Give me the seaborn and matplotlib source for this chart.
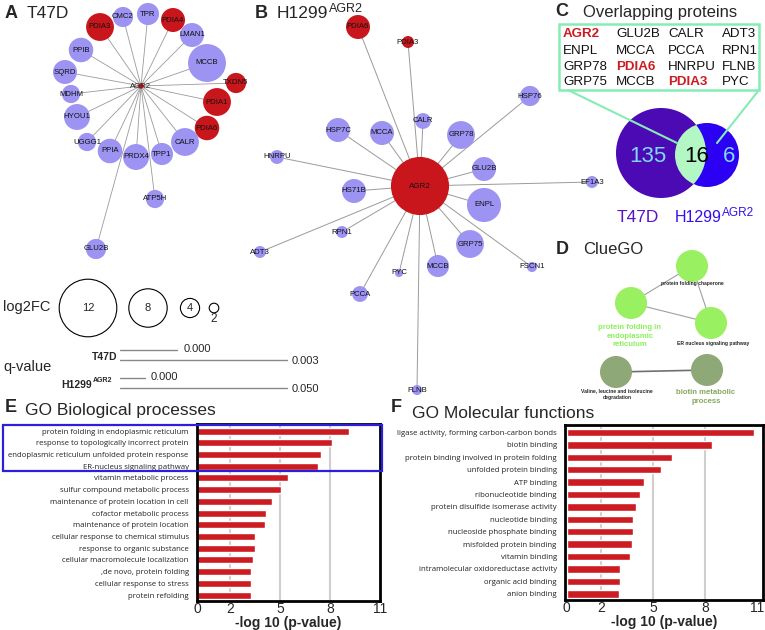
import numpy as np
import pandas as pd
import matplotlib
matplotlib.use('Agg')
import matplotlib.pyplot as plt
from matplotlib.patches import Circle, Rectangle
import seaborn as sns

# ------------------------------------------------------------------ data
# Panel A: T47D AGR2 interactors (node size ~ log2FC)
a_nodes = ['CMC2', 'TPR', 'PDIA4', 'PDIA3', 'LMAN1', 'PPIB', 'MCCB', 'SQRD', 'TXDN5', 'MDHM',
           'PDIA1', 'HYOU1', 'PDIA6', 'UGGG1', 'CALR', 'PPIA', 'PRDX4', 'TPP1', 'ATP5H', 'GLU2B']
a_log2fc = [4.2, 4.6, 5.0, 5.8, 5.0, 5.1, 7.9, 5.0, 4.2, 3.8,
            5.8, 5.4, 5.1, 3.8, 5.8, 5.1, 5.4, 4.6, 3.8, 4.2]
a_pdi = ['PDIA4', 'PDIA3', 'TXDN5', 'PDIA1', 'PDIA6']
# layout (network drawing positions, px)
a_hub = (141, 86)
a_x = [123, 148, 173, 100, 192, 81, 207, 65, 236, 71, 217, 77, 207, 87, 185, 110, 136, 162, 155, 96]
a_y = [17, 14, 20, 27, 35, 50, 63, 72, 83, 94, 102, 117, 128, 142, 142, 151, 157, 154, 199, 249]

# Panel B: H1299-AGR2 interactors
b_nodes = ['PDIA6', 'PDIA3', 'HSP76', 'CALR', 'MCCA', 'HSP7C', 'GRP78', 'HNRPU', 'GLU2B', 'HS71B',
           'EF1A3', 'ENPL', 'RPN1', 'ADT3', 'GRP75', 'PYC', 'MCCB', 'FSCN1', 'PCCA', 'FLNB']
b_log2fc = [5.0, 2.5, 4.2, 3.3, 5.0, 5.0, 5.8, 2.9, 5.0, 5.0,
            2.5, 7.1, 2.5, 2.5, 5.8, 1.7, 4.6, 2.1, 3.3, 2.1]
b_hub_log2fc = 12.1
b_red = ['PDIA6', 'PDIA3']
b_hub = (420, 186)
b_x = [358, 408, 530, 423, 382, 338, 461, 277, 484, 354, 592, 484, 342, 260, 470, 399, 438, 532, 360, 417]
b_y = [27, 42, 96, 121, 133, 130, 135, 157, 169, 191, 182, 205, 232, 252, 244, 273, 266, 267, 294, 390]

legend_sizes = [12, 8, 4, 2]

# Panel C
overlap_proteins = ['AGR2', 'GLU2B', 'CALR', 'ADT3',
                    'ENPL', 'MCCA', 'PCCA', 'RPN1',
                    'GRP78', 'PDIA6', 'HNRPU', 'FLNB',
                    'GRP75', 'MCCB', 'PDIA3', 'PYC']
overlap_highlight = ['AGR2', 'PDIA6', 'PDIA3']
venn_counts = [135, 16, 6]

# Panel E
bp_terms = ['protein folding in endoplasmic reticulum', 'response to topologically incorrect protein',
            'endoplasmic reticulum unfolded protein response', 'ER-nucleus signaling pathway',
            'vitamin metabolic process', 'sulfur compound metabolic process',
            'maintenance of protein location in cell', 'cofactor metabolic process',
            'maintenance of protein location', 'cellular response to chemical stimulus',
            'response to organic substance', 'cellular macromolecule localization',
            ',de novo, protein folding', 'cellular response to stress', 'protein refolding']
bp_values = [9.14, 8.10, 7.44, 7.30, 5.44, 5.04, 4.52, 4.14, 4.06, 3.48, 3.46, 3.36, 3.24, 3.24, 3.22]

# Panel F
mf_terms = ['ligase activity, forming carbon-carbon bonds', 'biotin binding',
            'protein binding involved in protein folding', 'unfolded protein binding',
            'ATP binding', 'ribonucleotide binding', 'protein disulfide isomerase activity',
            'nucleotide binding', 'nucleoside phosphate binding', 'misfolded protein binding',
            'vitamin binding', 'intramolecular oxidoreductase activity', 'organic acid binding',
            'anion binding']
mf_values = [10.79, 8.40, 6.09, 5.45, 4.47, 4.22, 3.97, 3.83, 3.83, 3.76, 3.66, 3.08, 3.05, 2.99]
x_ticks = [0, 2, 5, 8, 11]

# ------------------------------------------------------------------ style
sns.set_theme(style='white')
plt.rcParams['font.family'] = ['Liberation Sans', 'DejaVu Sans']

BLUE_NODE = '#9d93f2'
RED_NODE = '#c8161c'
BAR_RED = '#cc1c22'
EDGE = '#9a9a9a'
LABEL_FONT = 'Open Sans'

fig = plt.figure(figsize=(7.65, 6.3), dpi=100)
ax0 = fig.add_axes([0, 0, 1, 1])
ax0.set_xlim(0, 765)
ax0.set_ylim(630, 0)
ax0.axis('off')
ax0.set_zorder(5)
ax0.patch.set_visible(False)
renderer = fig.canvas.get_renderer()

R = 2.4  # px per log2FC unit


def node(ax, x, y, v, color, label, fs=5.6, zorder=3):
    ax.add_patch(Circle((x, y), R * v, facecolor=color, edgecolor='none', zorder=zorder))
    ax.text(x, y, label, ha='center', va='center', fontsize=fs, color='#111111', zorder=zorder + 1)


def with_sup(x, y, base, sup, fs, sfs, dy, ha='left', **kw):
    """Base text with a superscript placed right after its measured extent."""
    t = ax0.text(x, y, base, fontsize=fs, va='center', ha=ha, **kw)
    bb = t.get_window_extent(renderer=renderer)
    x1 = ax0.transData.inverted().transform((bb.x1, bb.y0))[0]
    ax0.text(x1 + 0.5, y - dy, sup, fontsize=sfs, va='center', ha='left', **kw)


# ---------------- Panel A
ax0.text(5, 13, 'A', fontsize=13, fontweight='bold', va='center', ha='left')
ax0.text(27, 14, 'T47D', fontsize=12.5, va='center', ha='left')
for n, v, x, y in zip(a_nodes, a_log2fc, a_x, a_y):
    ax0.plot([a_hub[0], x], [a_hub[1], y], color=EDGE, lw=0.6, zorder=1)
for n, v, x, y in zip(a_nodes, a_log2fc, a_x, a_y):
    node(ax0, x, y, v, RED_NODE if n in a_pdi else BLUE_NODE, n)
ax0.add_patch(Circle(a_hub, 2, color=RED_NODE, zorder=3))
ax0.text(a_hub[0], a_hub[1], 'AGR2', ha='center', va='center', fontsize=5.6, zorder=4)

# ---------------- Panel B
ax0.text(255, 13, 'B', fontsize=13, fontweight='bold', va='center', ha='left')
with_sup(277, 14, 'H1299', 'AGR2', 12.5, 9, 5.5)
for n, v, x, y in zip(b_nodes, b_log2fc, b_x, b_y):
    ax0.plot([b_hub[0], x], [b_hub[1], y], color=EDGE, lw=0.7, zorder=1)
for n, v, x, y in zip(b_nodes, b_log2fc, b_x, b_y):
    node(ax0, x, y, v, RED_NODE if n in b_red else BLUE_NODE, n)
node(ax0, b_hub[0], b_hub[1], b_hub_log2fc, RED_NODE, 'AGR2', fs=5.8)

# ---------------- legend (log2FC and q-value)
ax0.text(3, 307, 'log2FC', fontsize=10.5, va='center', ha='left')
leg_x = [88, 148, 190, 214]
for s, x in zip(legend_sizes, leg_x):
    ax0.add_patch(Circle((x, 308), R * s, facecolor='white', edgecolor='black', lw=0.8, zorder=3))
    if s > 2:
        ax0.text(x, 308, str(s), ha='center', va='center', fontsize=8, zorder=4)
    else:
        ax0.text(x, 319, str(s), ha='center', va='center', fontsize=8.5, zorder=4)

ax0.text(3, 367, 'q-value', fontsize=10.5, va='center', ha='left')
ax0.text(117, 357, 'T47D', fontsize=7.5, fontweight='bold', va='center', ha='right')
ax0.text(92, 385, 'H1299', fontsize=7.5, fontweight='bold', va='center', ha='right')
ax0.text(93, 381, 'AGR2', fontsize=5, fontweight='bold', va='center', ha='left')
qcol = '#888888'
ax0.plot([120, 177], [350, 350], color=qcol, lw=1)
ax0.plot([120, 287], [360, 360], color=qcol, lw=1)
ax0.plot([120, 145], [378, 378], color=qcol, lw=1)
ax0.plot([120, 287], [388, 388], color=qcol, lw=1)
ax0.text(184, 349, '0.000', fontsize=8, va='center', ha='left')
ax0.text(292, 361, '0.003', fontsize=8, va='center', ha='left')
ax0.text(151, 377, '0.000', fontsize=8, va='center', ha='left')
ax0.text(292, 389, '0.050', fontsize=8, va='center', ha='left')

# ---------------- Panel C
ax0.text(555, 12, 'C', fontsize=13, fontweight='bold', va='center', ha='left')
ax0.text(583, 13, 'Overlapping proteins', fontsize=12, va='center', ha='left')
MINT = '#86ecb5'
ax0.add_patch(Rectangle((559, 24), 200, 66, facecolor='white', edgecolor=MINT, lw=1.8, zorder=2))
col_x = [563, 616, 668, 722]
row_y = [34, 51, 67, 82]
for i, p in enumerate(overlap_proteins):
    r, c = divmod(i, 4)
    hl = p in overlap_highlight
    ax0.text(col_x[c], row_y[r], p, fontsize=9.6, va='center', ha='left',
             color='#cc1c22' if hl else '#111111', fontweight='bold' if hl else 'normal', zorder=3)

T47D_COL = '#4b0ab4'
H1299_COL = '#2c00f2'
GREEN = '#b3f7c4'
c1 = Circle((661, 153), 45, facecolor=T47D_COL, edgecolor='none', zorder=2)
c2 = Circle((707, 155), 32, facecolor=H1299_COL, edgecolor='none', zorder=1)
ax0.add_patch(c2)
ax0.add_patch(c1)
inter = Circle((707, 155), 32, facecolor=GREEN, edgecolor='none', zorder=3)
ax0.add_patch(inter)
clipc = Circle((661, 153), 45, transform=ax0.transData)
inter.set_clip_path(clipc)
ax0.plot([568, 677], [90, 143], color=MINT, lw=1.5, zorder=4)
ax0.plot([759, 717], [90, 143], color=MINT, lw=1.5, zorder=4)
ax0.text(648, 157, str(venn_counts[0]), fontsize=16, color='#7fd9f5', ha='center', va='center', zorder=5)
ax0.text(697, 157, str(venn_counts[1]), fontsize=16, color='black', ha='center', va='center', zorder=5)
ax0.text(729, 157, str(venn_counts[2]), fontsize=16, color='#7fd9f5', ha='center', va='center', zorder=5)
ax0.text(638, 218, 'T47D', fontsize=12.5, color='#5a12c8', ha='center', va='center')
with_sup(675, 218, 'H1299', 'AGR2', 11.5, 8.5, 5.5, color='#3311ee')

# ---------------- Panel D (ClueGO)
ax0.text(556, 249, 'D', fontsize=13, fontweight='bold', va='center', ha='left')
ax0.text(583, 250, 'ClueGO', fontsize=12, va='center', ha='left')
LG = '#99f060'
OL = '#8ea878'
cg = {'chap': (692, 266), 'pfer': (631, 303), 'ern': (711, 323), 'val': (616, 372), 'bio': (707, 370)}
for a, b in [('chap', 'pfer'), ('chap', 'ern'), ('pfer', 'ern')]:
    ax0.plot([cg[a][0], cg[b][0]], [cg[a][1], cg[b][1]], color='#a0a0a0', lw=0.8, zorder=1)
ax0.plot([cg['val'][0], cg['bio'][0]], [cg['val'][1], cg['bio'][1]], color='#707070', lw=1.2, zorder=1)
for k, col in [('chap', LG), ('pfer', LG), ('ern', LG), ('val', OL), ('bio', OL)]:
    ax0.add_patch(Circle(cg[k], 16, facecolor=col, edgecolor='none', zorder=2))
ax0.text(692, 284, 'protein folding chaperone', fontsize=3.6, fontweight='bold', ha='center', va='center')
ax0.text(630, 336, 'protein folding in\nendoplasmic\nreticulum', fontsize=5.6, fontweight='bold',
         color='#8cf05a', ha='center', va='center', linespacing=1.35)
ax0.text(713, 343, 'ER nucleus signaling pathway', fontsize=3.6, fontweight='bold', ha='center', va='center')
ax0.text(617, 394, 'Valine, leucine and isoleucine\ndegradation', fontsize=3.6, fontweight='bold',
         ha='center', va='center', linespacing=1.3)
ax0.text(706, 397, 'biotin metabolic\nprocess', fontsize=5.6, fontweight='bold', color='#86a860',
         ha='center', va='center', linespacing=1.35)

# ---------------- Panels E / F bar charts
W, H = 765.0, 630.0


def bar_axes(left, right, top, bottom):
    return fig.add_axes([left / W, 1 - bottom / H, (right - left) / W, (bottom - top) / H])


def style_bars(ax, terms, values, xlim):
    df = pd.DataFrame({'term': terms, 'value': values})
    for g in [2, 5, 8]:
        ax.axvline(g, color='#cfcfcf', lw=1.5, zorder=0)
    sns.barplot(data=df, x='value', y='term', orient='h', color=BAR_RED, width=0.6,
                saturation=1, ax=ax, zorder=2)
    ax.set_xlim(*xlim)
    ax.set_ylim(len(terms) - 0.5, -0.6)
    ax.set_xticks(x_ticks)
    ax.set_xticklabels([str(t) for t in x_ticks], fontsize=10)
    ax.tick_params(axis='x', length=0, pad=1)
    ax.tick_params(axis='y', length=0, pad=6)
    for lab in ax.get_yticklabels():
        lab.set_fontfamily(LABEL_FONT)
        lab.set_fontsize(5.6)
        lab.set_color('#222222')
    ax.set_ylabel('')
    ax.set_xlabel('-log 10 (p-value)', fontsize=10, fontweight='bold', labelpad=0)
    for sp in ax.spines.values():
        sp.set_visible(True)
        sp.set_color('black')
        sp.set_linewidth(2)
    ax.set_facecolor('white')


axE = bar_axes(197, 380, 424, 601)
style_bars(axE, bp_terms, bp_values, (0, 11))
axF = bar_axes(565, 763, 425, 600)
style_bars(axF, mf_terms, mf_values, (-0.1, 11.33))

ax0.text(5, 407, 'E', fontsize=13, fontweight='bold', va='center', ha='left')
ax0.text(25, 411, 'GO Biological processes', fontsize=12.5, va='center', ha='left')
ax0.text(391, 407, 'F', fontsize=13, fontweight='bold', va='center', ha='left')
ax0.text(412, 413, 'GO Molecular functions', fontsize=12.5, va='center', ha='left')
ax0.add_patch(Rectangle((3, 425), 379, 46, facecolor='none', edgecolor='#2a1fdc', lw=1.6, zorder=10))

fig.savefig('out.png', dpi=100)
